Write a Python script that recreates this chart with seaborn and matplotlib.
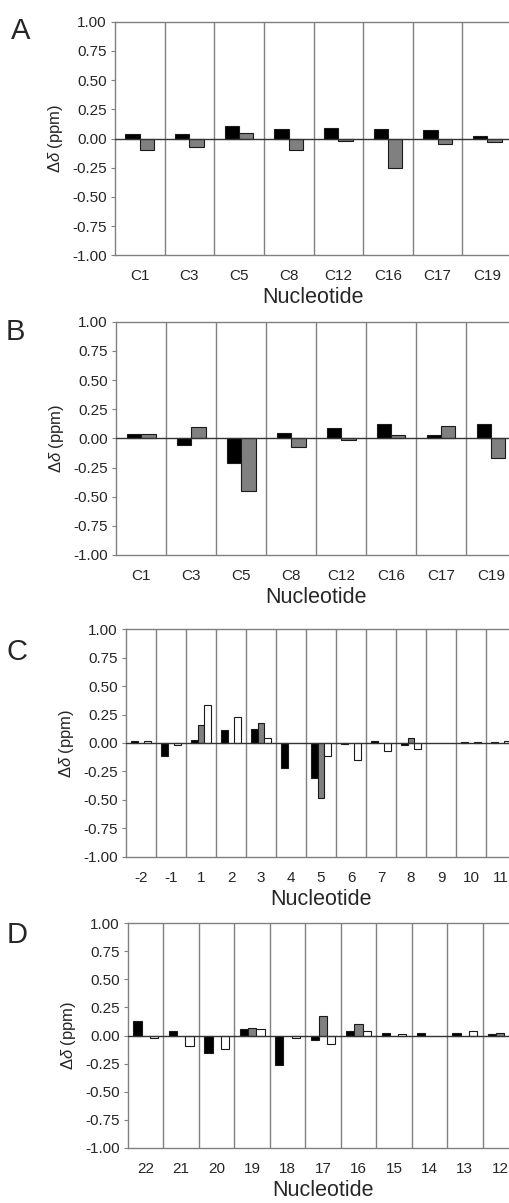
import numpy as np
import pandas as pd
import matplotlib
matplotlib.use("Agg")
import matplotlib.pyplot as plt
import seaborn as sns

# style
sns.set_style("ticks")
plt.rcParams["font.family"] = ["Liberation Sans", "DejaVu Sans"]
plt.rcParams["mathtext.fontset"] = "custom"
plt.rcParams["mathtext.rm"] = "Liberation Sans"
plt.rcParams["mathtext.it"] = "Liberation Sans:italic"
plt.rcParams["axes.unicode_minus"] = False

# --- data ---
nt_ab = ["C1", "C3", "C5", "C8", "C12", "C16", "C17", "C19"]
a_black = [0.04, 0.04, 0.11, 0.08, 0.09, 0.08, 0.07, 0.02]
a_gray = [-0.10, -0.07, 0.05, -0.10, -0.02, -0.25, -0.05, -0.03]
b_black = [0.04, -0.06, -0.21, 0.05, 0.09, 0.12, 0.03, 0.12]
b_gray = [0.04, 0.10, -0.45, -0.07, -0.01, 0.03, 0.11, -0.17]

nt_c = ["-2", "-1", "1", "2", "3", "4", "5", "6", "7", "8", "9", "10", "11"]
c_black = [0.02, -0.11, 0.03, 0.11, 0.12, -0.22, -0.31, -0.01, 0.02, -0.02, None, 0.01, 0.01]
c_gray = [None, None, 0.16, None, 0.18, None, -0.48, None, None, 0.04, None, None, None]
c_white = [0.02, -0.02, 0.33, 0.23, 0.04, None, -0.11, -0.15, -0.07, -0.05, None, 0.01, 0.02]

nt_d = ["22", "21", "20", "19", "18", "17", "16", "15", "14", "13", "12"]
d_black = [0.13, 0.04, -0.16, 0.06, -0.26, -0.04, 0.04, 0.02, 0.02, 0.02, 0.01]
d_gray = [None, None, None, 0.07, None, 0.17, 0.10, None, None, None, 0.02]
d_white = [-0.02, -0.09, -0.12, 0.06, -0.02, -0.08, 0.04, 0.01, None, 0.04, None]

y_ticks = [1.0, 0.75, 0.5, 0.25, 0.0, -0.25, -0.5, -0.75, -1.0]
y_ticklabels = ["1.00", "0.75", "0.50", "0.25", "0.00", "-0.25", "-0.50", "-0.75", "-1.00"]

series_colors = {"s1": "#000000", "s2": "#808080", "s3": "#ffffff"}
GRID = "#808080"

W, H = 509, 1203
fig = plt.figure(figsize=(W / 100, H / 100), dpi=100)


def make_df(cats, series):
    rows = []
    for name, vals in series.items():
        for c, v in zip(cats, vals):
            if v is not None:
                rows.append({"nt": c, "dd": v, "series": name})
    return pd.DataFrame(rows)


def panel(rect, letter, letter_xy, cats, series, width):
    ax = fig.add_axes(rect)
    df = make_df(cats, series)
    hue_order = list(series.keys())
    sns.barplot(data=df, x="nt", y="dd", hue="series", order=cats, hue_order=hue_order,
                palette=series_colors, width=width, gap=0, errorbar=None,
                edgecolor="#1a1a1a", linewidth=0.8, legend=False, ax=ax, zorder=3)
    n = len(cats)
    ax.set_xlim(-0.5, n - 0.5)
    ax.set_ylim(-1, 1)
    # separators between nucleotides
    for i in range(n - 1):
        ax.axvline(i + 0.5, color=GRID, lw=1.0, zorder=1)
    ax.axhline(0, color="#333333", lw=1.0, zorder=4)
    ax.set_yticks(y_ticks)
    ax.set_yticklabels(y_ticklabels)
    ax.tick_params(axis="y", length=3, width=0.8, color=GRID, pad=3, labelsize=11)
    ax.tick_params(axis="x", length=0, pad=10, labelsize=11)
    for s in ["left", "top", "bottom", "right"]:
        ax.spines[s].set_color(GRID)
        ax.spines[s].set_linewidth(1.0)
    ax.set_xlabel("Nucleotide", fontsize=15.5, labelpad=3)
    ax.set_ylabel(r"$\Delta\delta$ (ppm)", fontsize=12, labelpad=5)
    fig.text(letter_xy[0] / W, 1 - letter_xy[1] / H, letter, fontsize=21,
             ha="left", va="center")
    return ax


def rect(left, top, right, bottom):
    return [left / W, 1 - bottom / H, (right - left) / W, (bottom - top) / H]


panel(rect(115, 21.7, 512, 255.3), "A", (11, 31), nt_ab,
      {"s1": a_black, "s2": a_gray}, 0.58)
panel(rect(116, 321.7, 516, 555), "B", (6, 332), nt_ab,
      {"s1": b_black, "s2": b_gray}, 0.58)
panel(rect(126, 629.3, 516, 856.7), "C", (6, 652), nt_c,
      {"s1": c_black, "s2": c_gray, "s3": c_white}, 0.67)
panel(rect(128, 923.3, 518, 1147.7), "D", (7, 935), nt_d,
      {"s1": d_black, "s2": d_gray, "s3": d_white}, 0.7)

fig.savefig("out.png", dpi=100)
